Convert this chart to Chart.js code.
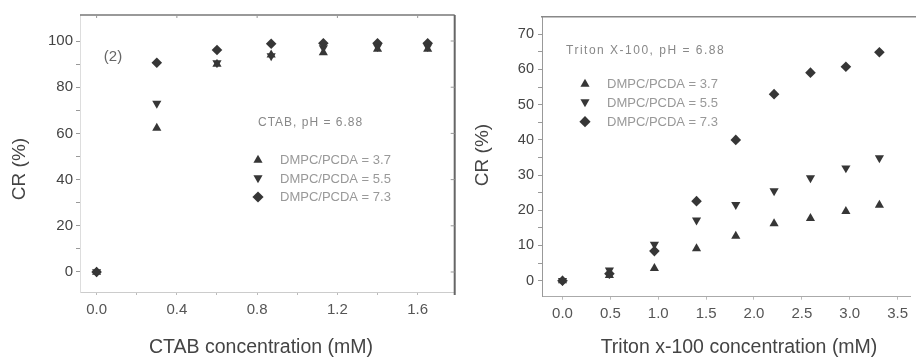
<!DOCTYPE html>
<html><head><meta charset="utf-8">
<script src="https://cdn.jsdelivr.net/npm/chart.js@4.4.1/dist/chart.umd.min.js"></script>
<style>
html,body{margin:0;padding:0;background:#fff;}
#wrap{position:relative;width:916px;height:359px;overflow:hidden;background:#fff;}
canvas{position:absolute;top:0;}
#c1{left:0;} #c2{left:456px;}
</style></head><body>
<div id="wrap"><canvas id="c1" width="460" height="359"></canvas><canvas id="c2" width="460" height="359"></canvas></div>
<script>
// ---- Panel 1: CTAB ----
const ctabConc = [0, 0.3, 0.6, 0.87, 1.13, 1.4, 1.65];
const ctab37   = [0, 62.3, 90, 94, 95, 96.5, 96.5];
const ctab55   = [0, 73, 90.5, 93.5, 97, 97.5, 97.5];
const ctab73   = [0, 90.6, 96.1, 98.8, 99, 99, 99];
const ctabXTicks = [0, 0.4, 0.8, 1.2, 1.6];
const ctabXMinor = [0, 0.2, 0.4, 0.6, 0.8, 1.0, 1.2, 1.4, 1.6];
const ctabYTicks = [0, 20, 40, 60, 80, 100];
const ctabYMinor = [0, 10, 20, 30, 40, 50, 60, 70, 80, 90, 100];

// ---- Panel 2: Triton X-100 ----
const tritonConc = [0, 0.49, 0.96, 1.40, 1.81, 2.21, 2.59, 2.96, 3.31];
const triton37   = [0, 1.5, 3.5, 9.1, 12.7, 16.2, 17.7, 19.7, 21.5];
const triton55   = [0, 3, 10.3, 17.2, 21.6, 25.5, 29.2, 32, 34.9];
const triton73   = [0, 2, 8.4, 22.6, 40, 53, 59.1, 60.8, 64.9];
const tritonXTicks = [0, 0.5, 1.0, 1.5, 2.0, 2.5, 3.0, 3.5];
const tritonYTicks = [0, 10, 20, 30, 40, 50, 60, 70];
const tritonYMinor = [0, 5, 10, 15, 20, 25, 30, 35, 40, 45, 50, 55, 60, 65, 70];

const seriesLabels = ['DMPC/PCDA = 3.7', 'DMPC/PCDA = 5.5', 'DMPC/PCDA = 7.3'];
const MARK = '#363636';
const FONT = '"Liberation Sans", Arial, sans-serif';

function pts(xs, ys){ return xs.map((x,i)=>({x:x, y:ys[i]})); }
function isIn(v, arr){ return arr.some(t=>Math.abs(t-v)<1e-6); }

function shape(ctx, kind, x, y, r){
  ctx.beginPath();
  if (kind==='up'){ ctx.moveTo(x,y-r); ctx.lineTo(x+0.866*r,y+0.5*r); ctx.lineTo(x-0.866*r,y+0.5*r); }
  else if (kind==='down'){ ctx.moveTo(x,y+r); ctx.lineTo(x+0.866*r,y-0.5*r); ctx.lineTo(x-0.866*r,y-0.5*r); }
  else { ctx.moveTo(x,y-r); ctx.lineTo(x+r,y); ctx.lineTo(x,y+r); ctx.lineTo(x-r,y); }
  ctx.closePath(); ctx.fillStyle = MARK; ctx.fill();
}
function txt(ctx, s, x, y, size, color, align, spacing){
  ctx.save();
  ctx.font = size + 'px ' + FONT; ctx.fillStyle = color;
  ctx.textAlign = align || 'left'; ctx.textBaseline = 'middle';
  if (spacing && 'letterSpacing' in ctx) ctx.letterSpacing = spacing + 'px';
  ctx.fillText(s, x, y); ctx.restore();
}
function vtxt(ctx, s, x, y, size, color){
  ctx.save(); ctx.translate(x,y); ctx.rotate(-Math.PI/2);
  ctx.font = size + 'px ' + FONT; ctx.fillStyle = color;
  ctx.textAlign='center'; ctx.textBaseline='middle'; ctx.fillText(s,0,0); ctx.restore();
}
function line(ctx, x1,y1,x2,y2,color,w,dash){
  ctx.save(); ctx.strokeStyle=color; ctx.lineWidth=w; if(dash) ctx.setLineDash(dash);
  ctx.beginPath(); ctx.moveTo(x1,y1); ctx.lineTo(x2,y2); ctx.stroke(); ctx.restore();
}

function datasets(xs, a, b, c){
  const base = {showLine:false, borderWidth:0, backgroundColor:MARK, borderColor:MARK, pointRadius:5.3, pointHoverRadius:5.3};
  return [
    Object.assign({label:seriesLabels[0], data:pts(xs,a), pointStyle:'triangle', pointRotation:0}, base),
    Object.assign({label:seriesLabels[1], data:pts(xs,b), pointStyle:'triangle', pointRotation:180}, base),
    Object.assign({label:seriesLabels[2], data:pts(xs,c), pointStyle:'rectRot', pointRotation:0, pointRadius:5.6, pointHoverRadius:5.6}, base)
  ];
}

function makeOptions(o){
  return {
    responsive:false, animation:false, devicePixelRatio:1,
    layout:{padding:o.pad},
    plugins:{legend:{display:false}, tooltip:{enabled:false}},
    scales:{
      x:{type:'linear', min:o.xmin, max:o.xmax,
        afterFit:(s)=>{s.height=o.xh;},
        afterBuildTicks:(s)=>{ s.ticks = o.xall.map(v=>({value:v})); },
        ticks:{autoSkip:false, maxRotation:0,
          callback:(v)=> isIn(v,o.xticks) ? v.toFixed(1) : '',
          font:{family:FONT, size:15}, color:'#555', padding:o.xpad},
        grid:{drawOnChartArea:false, drawTicks:true, tickLength:3, tickColor:'#bbb', color:'#bbb'},
        border:{display:true, color:o.xborder, width:1, dash:o.xdash}
      },
      y:{type:'linear', min:o.ymin, max:o.ymax,
        afterFit:(s)=>{s.width=o.yw;},
        afterBuildTicks:(s)=>{ s.ticks = o.yall.map(v=>({value:v})); },
        ticks:{autoSkip:false,
          callback:(v)=> isIn(v,o.yticks) ? String(v) : '',
          font:{family:FONT, size:o.yfs}, color:'#444', padding:o.ypad},
        grid:{drawOnChartArea:false, drawTicks:true, tickLength:4, tickColor:'#999', color:'#999'},
        border:{display:true, color:o.yborder, width:1, dash:o.ydash}
      }
    }
  };
}

// ---------- Chart 1 ----------
const deco1 = {
  id:'deco1',
  afterDraw(chart){
    const ctx = chart.ctx, a = chart.chartArea, ys = chart.scales.y, xs = chart.scales.x;
    line(ctx, a.left, a.top, a.right, a.top, '#777', 1.5);
    line(ctx, a.right, a.top, a.right, a.bottom+3, '#666', 2);
    ctabYTicks.forEach(v=>{ const p = ys.getPixelForValue(v); line(ctx, a.right-4, p, a.right, p, '#999', 1); });
    ctabXTicks.forEach(v=>{ const p = xs.getPixelForValue(v); line(ctx, p, a.top, p, a.top+3, '#999', 1); });
    txt(ctx, '(2)', 113, 57, 15, '#666', 'center');
    txt(ctx, 'CTAB, pH = 6.88', 258, 123, 12, '#888', 'left', 1);
    shape(ctx,'up',258,160,5.3); shape(ctx,'down',258,178,5.3); shape(ctx,'dia',258,197,5.6);
    txt(ctx, seriesLabels[0], 280, 160, 13, '#999');
    txt(ctx, seriesLabels[1], 280, 179, 13, '#999');
    txt(ctx, seriesLabels[2], 280, 197, 13, '#999');
    vtxt(ctx, 'CR (%)', 20, 169, 19, '#444');
    txt(ctx, 'CTAB concentration (mM)', 261, 348, 19.5, '#444', 'center');
  }
};
new Chart(document.getElementById('c1'), {
  type:'scatter',
  data:{datasets:datasets(ctabConc, ctab37, ctab55, ctab73)},
  options:makeOptions({pad:{left:0,right:3,top:15,bottom:0}, xmin:-0.0827, xmax:1.7846, xh:67, xall:ctabXMinor, xticks:ctabXTicks, xpad:6,
    xborder:'#ccc', xdash:[2,3], ymin:-8.66, ymax:111.26, yw:80, yall:ctabYMinor, yticks:ctabYTicks, yfs:15, ypad:3, yborder:'#ddd', ydash:[]}),
  plugins:[deco1]
});

// ---------- Chart 2 ----------
const deco2 = {
  id:'deco2',
  afterDraw(chart){
    const ctx = chart.ctx, a = chart.chartArea;
    line(ctx, a.left-1, a.top, 460, a.top, '#888', 1.5);
    txt(ctx, 'Triton X-100, pH = 6.88', 566-456, 51, 12, '#888', 'left', 1.5);
    shape(ctx,'up',585-456,84,5.3); shape(ctx,'down',585-456,102,5.3); shape(ctx,'dia',585-456,121.7,5.6);
    txt(ctx, seriesLabels[0], 607-456, 84, 13, '#999');
    txt(ctx, seriesLabels[1], 607-456, 103, 13, '#999');
    txt(ctx, seriesLabels[2], 607-456, 122, 13, '#999');
    vtxt(ctx, 'CR (%)', 483-456, 155, 19, '#444');
    txt(ctx, 'Triton x-100 concentration (mM)', 739-456, 348, 19.5, '#444', 'center');
  }
};
new Chart(document.getElementById('c2'), {
  type:'scatter',
  data:{datasets:datasets(tritonConc, triton37, triton55, triton73)},
  options:makeOptions({pad:{left:0,right:2,top:16.7,bottom:0}, xmin:-0.214, xmax:3.637, xh:62.3, xall:tritonXTicks, xticks:tritonXTicks, xpad:5,
    xborder:'#aaa', xdash:[], ymin:-4.55, ymax:75, yw:86, yall:tritonYMinor, yticks:tritonYTicks, yfs:14.5, ypad:4, yborder:'#999', ydash:[1,2]}),
  plugins:[deco2]
});
</script>
</body></html>
